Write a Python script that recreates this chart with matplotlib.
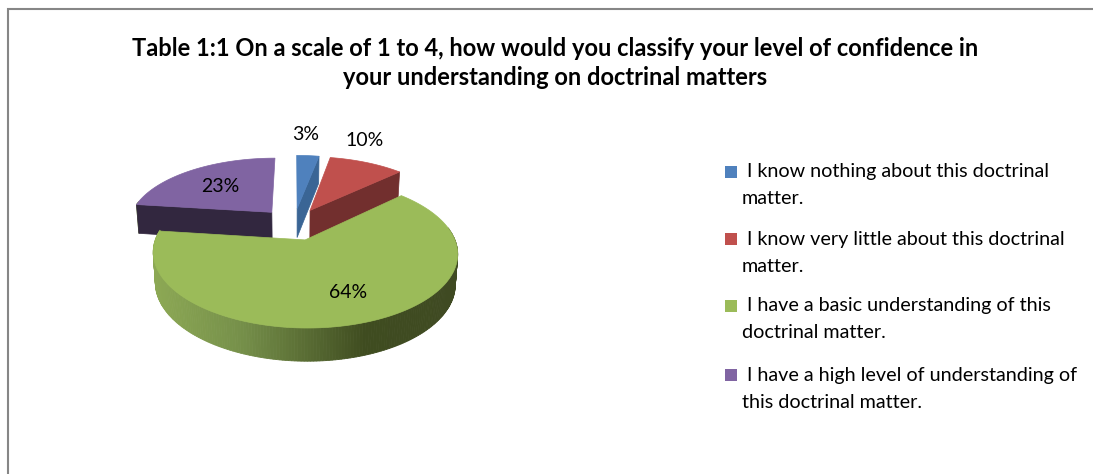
import matplotlib
matplotlib.use("Agg")
import matplotlib.pyplot as plt
from matplotlib.colors import to_rgb
from matplotlib.patches import Rectangle
import numpy as np

plt.rcParams["font.family"] = ["Lato", "DejaVu Sans"]

title = ("Table 1:1 On a scale of 1 to 4, how would you classify your level of confidence in\n"
         "your understanding on doctrinal matters")
categories = ["I know nothing about this doctrinal\nmatter.",
              "I know very little about this doctrinal\nmatter.",
              "I have a basic understanding of this\ndoctrinal matter.",
              "I have a high level of understanding of\nthis doctrinal matter."]
percent = [3, 10, 64, 23]

top_colors = ["#4F81BD", "#C0504D", "#9BBB59", "#8064A2"]
cut_colors = ["#3A6595", "#722F2E", "#5F7530", "#32273F"]
# outer wall of the big slice goes from light on the left to dark on the right
wall_stops_x = [155, 240, 300, 365, 456]
wall_stops_c = ["#8CA854", "#76904A", "#5C7036", "#3F4C20", "#3F4A22"]

label_xy = [(306, 135), (365, 141), (348, 293), (220, 186)]
legend_y = [172, 239, 306, 375]

# projection of the tilted pie, fitted to the picture (pixels)
CX, CY, RX, RY = 294, 224, 144, 67
PERSP = 0.17
EXPLODE = 0.24


def project(u, v, low=False):
    s = 1 / (1 + PERSP * v)
    x = CX + RX * u * s
    y = CY - RY * v * s
    if low:
        x = CX + (x - CX) * 0.985
        y = y + 15.5 + 14 * s
    return x, y


def rim(theta, mid, low=False):
    # theta, mid in degrees, clockwise from 12 o'clock
    u = np.sin(np.radians(theta)) + EXPLODE * np.sin(np.radians(mid))
    v = np.cos(np.radians(theta)) + EXPLODE * np.cos(np.radians(mid))
    return project(u, v, low)


def apex(mid, low=False):
    return project(EXPLODE * np.sin(np.radians(mid)), EXPLODE * np.cos(np.radians(mid)), low)


def wall_color(x):
    rgb = np.array([to_rgb(c) for c in wall_stops_c])
    return [np.interp(x, wall_stops_x, rgb[:, i]) for i in range(3)]


fig = plt.figure(figsize=(10.93, 4.74), dpi=100)
ax = fig.add_axes([0, 0, 1, 1])
ax.set_xlim(0, 1093)
ax.set_ylim(474, 0)
ax.axis("off")

# chart frame, cut by the picture at right and bottom
ax.plot([8, 8, 1093], [474, 9, 9], color="#868686", lw=1.5, solid_joinstyle="miter")

ax.text(555, 63, title, ha="center", va="center", fontsize=17, fontweight="bold",
        linespacing=1.36, color="black")

edges = np.cumsum([0] + percent) * 3.6
# back slices first, the big front slice on top of them
for i in [3, 0, 1, 2]:
    start, end = edges[i], edges[i + 1]
    mid = (start + end) / 2

    a, b = max(start, 80), min(end, 280)
    if a < b:
        thetas = np.arange(a, b + 1, 1.0)
        for t0, t1 in zip(thetas[:-1], thetas[1:]):
            p = [rim(t0, mid), rim(t1, mid), rim(t1, mid, True), rim(t0, mid, True)]
            c = wall_color((p[0][0] + p[1][0]) / 2)
            ax.fill(*zip(*p), color=c, lw=0.6)

    cuts = []
    if end < 180:
        cuts.append(end)
    if start > 180:
        cuts.append(start)
    for t in cuts:
        p = [apex(mid), rim(t, mid), rim(t, mid, True), apex(mid, True)]
        ax.fill(*zip(*p), color=cut_colors[i], lw=0.5)

    thetas = np.linspace(start, end, 200)
    pts = [apex(mid)] + [rim(t, mid) for t in thetas]
    ax.fill(*zip(*pts), color=top_colors[i], lw=0.5)

for v, (x, y) in zip(percent, label_xy):
    ax.text(x, y, f"{v}%", ha="center", va="center", fontsize=14, color="black")

for name, color, y in zip(categories, top_colors, legend_y):
    ax.add_patch(Rectangle((725, y - 6), 12, 12, facecolor=color, edgecolor="none"))
    first, second = name.split("\n")
    ax.text(747, y, first, ha="left", va="center", fontsize=14.2, color="black")
    ax.text(742, y + 27, second, ha="left", va="center", fontsize=14.2, color="black")

fig.savefig("out.png", dpi=100)
